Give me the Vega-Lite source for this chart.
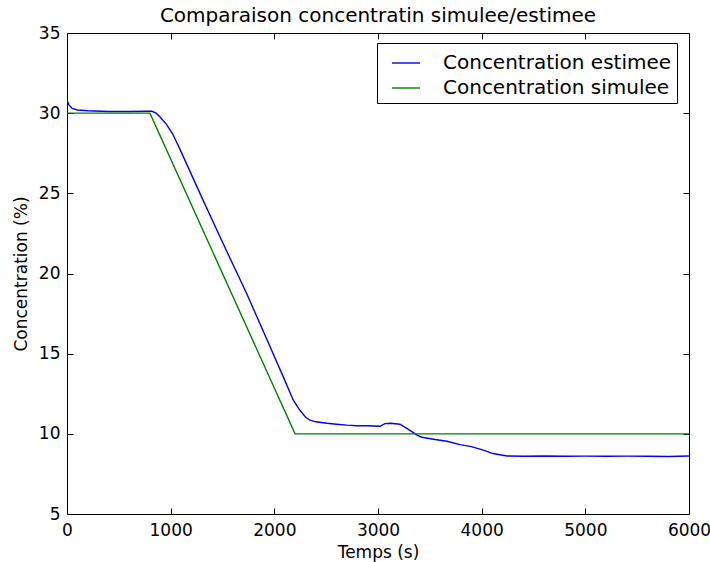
{
  "$schema": "https://vega.github.io/schema/vega-lite/v6.json",
  "width": 622,
  "height": 481,
  "autosize": {"type": "none"},
  "padding": {"left": 67, "top": 33, "right": 21, "bottom": 48},
  "background": "white",
  "title": {
    "text": "Comparaison concentratin simulee/estimee",
    "font": "DejaVu Sans",
    "fontSize": 20,
    "fontWeight": "normal",
    "color": "#000",
    "baseline": "alphabetic",
    "offset": -18,
    "anchor": "middle"
  },
  "config": {
    "view": {"stroke": "#000", "strokeWidth": 1},
    "axis": {
      "grid": false,
      "domain": false,
      "tickColor": "#000",
      "tickSize": -6,
      "tickWidth": 1,
      "labelFont": "DejaVu Sans",
      "labelFontSize": 17,
      "labelColor": "#000",
      "titleFont": "DejaVu Sans",
      "titleFontSize": 17,
      "titleFontWeight": "normal",
      "titleColor": "#000"
    },
    "legend": {
      "labelFont": "DejaVu Sans",
      "labelFontSize": 20,
      "labelColor": "#000",
      "labelLimit": 0
    }
  },
  "data": {
    "values": [
      {"t": 0, "c": 30.8, "s": "Concentration estimee"},
      {"t": 20, "c": 30.5, "s": "Concentration estimee"},
      {"t": 50, "c": 30.3, "s": "Concentration estimee"},
      {"t": 100, "c": 30.2, "s": "Concentration estimee"},
      {"t": 200, "c": 30.15, "s": "Concentration estimee"},
      {"t": 400, "c": 30.1, "s": "Concentration estimee"},
      {"t": 600, "c": 30.1, "s": "Concentration estimee"},
      {"t": 780, "c": 30.12, "s": "Concentration estimee"},
      {"t": 820, "c": 30.12, "s": "Concentration estimee"},
      {"t": 860, "c": 30.0, "s": "Concentration estimee"},
      {"t": 900, "c": 29.75, "s": "Concentration estimee"},
      {"t": 960, "c": 29.3, "s": "Concentration estimee"},
      {"t": 1020, "c": 28.7, "s": "Concentration estimee"},
      {"t": 1100, "c": 27.6, "s": "Concentration estimee"},
      {"t": 1219, "c": 25.9, "s": "Concentration estimee"},
      {"t": 1300, "c": 24.75, "s": "Concentration estimee"},
      {"t": 1500, "c": 21.95, "s": "Concentration estimee"},
      {"t": 1733, "c": 18.75, "s": "Concentration estimee"},
      {"t": 1900, "c": 16.3, "s": "Concentration estimee"},
      {"t": 2100, "c": 13.35, "s": "Concentration estimee"},
      {"t": 2183, "c": 12.1, "s": "Concentration estimee"},
      {"t": 2247, "c": 11.47, "s": "Concentration estimee"},
      {"t": 2300, "c": 11.05, "s": "Concentration estimee"},
      {"t": 2344, "c": 10.85, "s": "Concentration estimee"},
      {"t": 2400, "c": 10.75, "s": "Concentration estimee"},
      {"t": 2508, "c": 10.66, "s": "Concentration estimee"},
      {"t": 2600, "c": 10.6, "s": "Concentration estimee"},
      {"t": 2701, "c": 10.54, "s": "Concentration estimee"},
      {"t": 2800, "c": 10.5, "s": "Concentration estimee"},
      {"t": 2900, "c": 10.5, "s": "Concentration estimee"},
      {"t": 3019, "c": 10.47, "s": "Concentration estimee"},
      {"t": 3067, "c": 10.64, "s": "Concentration estimee"},
      {"t": 3120, "c": 10.66, "s": "Concentration estimee"},
      {"t": 3212, "c": 10.6, "s": "Concentration estimee"},
      {"t": 3308, "c": 10.22, "s": "Concentration estimee"},
      {"t": 3380, "c": 9.9, "s": "Concentration estimee"},
      {"t": 3424, "c": 9.79, "s": "Concentration estimee"},
      {"t": 3550, "c": 9.65, "s": "Concentration estimee"},
      {"t": 3665, "c": 9.54, "s": "Concentration estimee"},
      {"t": 3791, "c": 9.33, "s": "Concentration estimee"},
      {"t": 3900, "c": 9.2, "s": "Concentration estimee"},
      {"t": 3984, "c": 9.05, "s": "Concentration estimee"},
      {"t": 4030, "c": 8.95, "s": "Concentration estimee"},
      {"t": 4109, "c": 8.77, "s": "Concentration estimee"},
      {"t": 4244, "c": 8.62, "s": "Concentration estimee"},
      {"t": 4400, "c": 8.6, "s": "Concentration estimee"},
      {"t": 4600, "c": 8.62, "s": "Concentration estimee"},
      {"t": 4800, "c": 8.6, "s": "Concentration estimee"},
      {"t": 5000, "c": 8.61, "s": "Concentration estimee"},
      {"t": 5200, "c": 8.6, "s": "Concentration estimee"},
      {"t": 5400, "c": 8.61, "s": "Concentration estimee"},
      {"t": 5600, "c": 8.6, "s": "Concentration estimee"},
      {"t": 5800, "c": 8.59, "s": "Concentration estimee"},
      {"t": 6000, "c": 8.62, "s": "Concentration estimee"},
      {"t": 0, "c": 30, "s": "Concentration simulee"},
      {"t": 800, "c": 30, "s": "Concentration simulee"},
      {"t": 2200, "c": 10, "s": "Concentration simulee"},
      {"t": 6000, "c": 10, "s": "Concentration simulee"}
    ]
  },
  "layer": [
    {
      "mark": {"type": "line", "strokeWidth": 1.4, "clip": true},
      "encoding": {
        "x": {
          "field": "t", "type": "quantitative",
          "scale": {"domain": [0, 6000], "nice": false, "zero": false},
          "axis": {"orient": "bottom", "title": "Temps (s)", "format": "d", "values": [0, 1000, 2000, 3000, 4000, 5000, 6000], "labelPadding": 14, "titlePadding": 6, "labelFlush": false}
        },
        "y": {
          "field": "c", "type": "quantitative",
          "scale": {"domain": [5, 35], "nice": false, "zero": false},
          "axis": {"orient": "left", "title": "Concentration (%)", "format": "d", "values": [5, 10, 15, 20, 25, 30, 35], "labelPadding": 13, "titlePadding": 8, "labelFlush": false}
        },
        "color": {
          "field": "s", "type": "nominal",
          "scale": {"domain": ["Concentration estimee", "Concentration simulee"], "range": ["#0000ff", "#008000"]},
          "legend": {
            "title": null,
            "orient": "none",
            "legendX": 310,
            "legendY": 10,
            "symbolType": "stroke",
            "symbolSize": 784,
            "symbolStrokeWidth": 1.4,
            "symbolOffset": 9,
            "labelOffset": 22,
            "rowPadding": 0,
            "padding": 5,
            "strokeColor": "#000",
            "fillColor": "#fff",
            "cornerRadius": 0
          }
        }
      }
    },
    {
      "mark": {"type": "line", "opacity": 0},
      "encoding": {
        "x": {
          "field": "t", "type": "quantitative",
          "axis": {"orient": "top", "title": null, "labels": false, "values": [0, 1000, 2000, 3000, 4000, 5000, 6000]}
        },
        "y": {
          "field": "c", "type": "quantitative",
          "axis": {"orient": "right", "title": null, "labels": false, "values": [5, 10, 15, 20, 25, 30, 35]}
        },
        "detail": {"field": "s"}
      }
    }
  ],
  "resolve": {"axis": {"x": "independent", "y": "independent"}}
}
